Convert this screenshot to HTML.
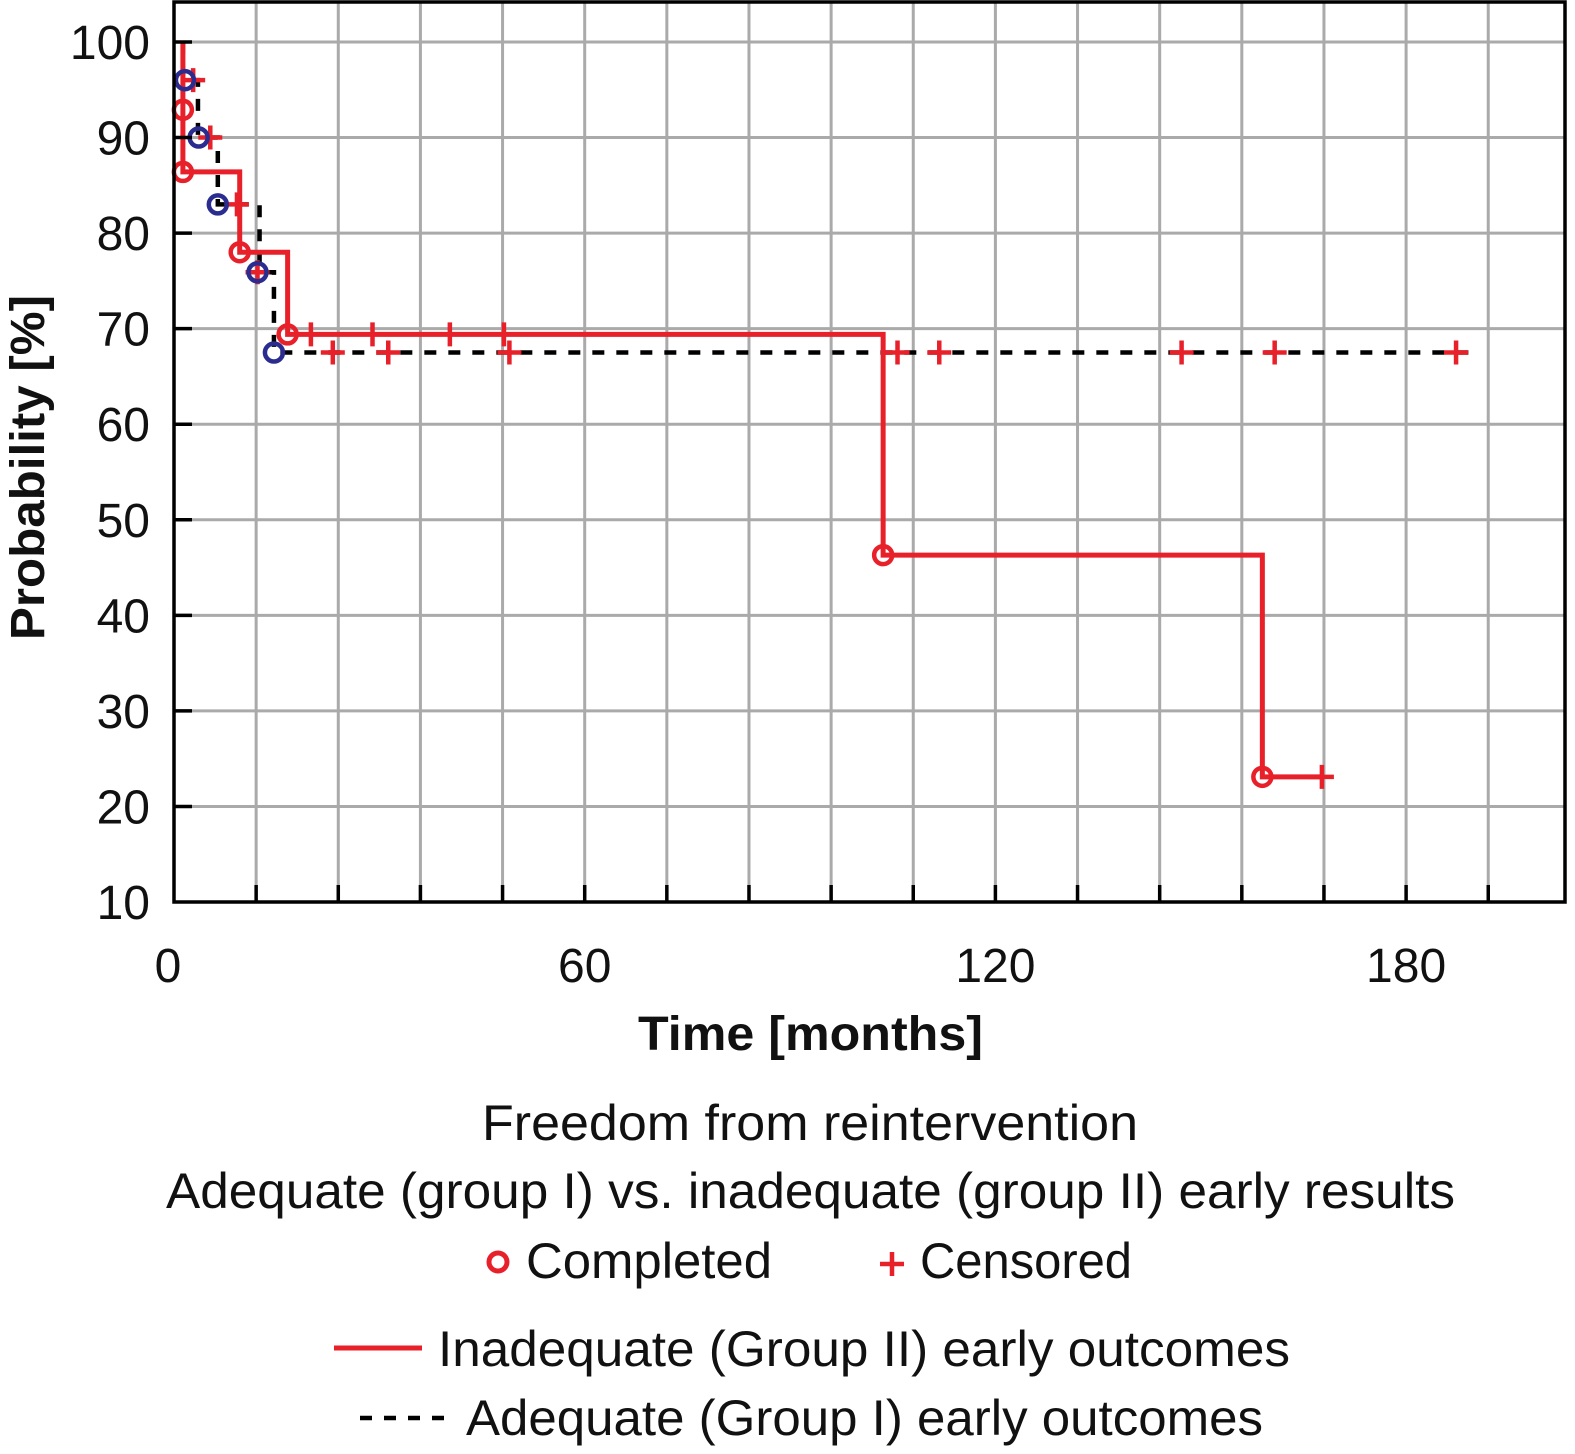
<!DOCTYPE html>
<html><head><meta charset="utf-8"><style>
html,body{margin:0;padding:0;background:#fff}
svg{display:block}
text{font-family:"Liberation Sans",sans-serif;fill:#111}
</style></head><body>
<svg id="chart" width="1575" height="1454" viewBox="0 0 1575 1454">
<g id="grid"></g>
<g id="series"></g>
<g id="axes"></g>
<text x="638" y="1050" font-size="48" font-weight="bold" textLength="345" lengthAdjust="spacingAndGlyphs">Time [months]</text>
<text transform="translate(44,640) rotate(-90)" font-size="48" font-weight="bold" textLength="345" lengthAdjust="spacingAndGlyphs">Probability [%]</text>
<text x="482" y="1140" font-size="50" textLength="656" lengthAdjust="spacingAndGlyphs">Freedom from reintervention</text>
<text x="166" y="1208" font-size="50" textLength="1289" lengthAdjust="spacingAndGlyphs">Adequate (group I) vs. inadequate (group II) early results</text>
<g>
<circle cx="498" cy="1262" r="9" fill="none" stroke="#e8202a" stroke-width="5"/>
<text x="526" y="1278" font-size="50" textLength="246" lengthAdjust="spacingAndGlyphs">Completed</text></g>
<g>
<path d="M880 1264h24M892 1252v24" stroke="#e8202a" stroke-width="4.5"/>
<text x="920" y="1278" font-size="50" textLength="212" lengthAdjust="spacingAndGlyphs">Censored</text></g>
<g>
<line x1="334" y1="1348" x2="422" y2="1348" stroke="#e8202a" stroke-width="5"/>
<text x="438" y="1366" font-size="50" textLength="852" lengthAdjust="spacingAndGlyphs">Inadequate (Group II) early outcomes</text></g>
<g>
<line x1="360" y1="1418" x2="452" y2="1418" stroke="#000" stroke-width="4.5" stroke-dasharray="12,12"/>
<text x="466" y="1435" font-size="50" textLength="797" lengthAdjust="spacingAndGlyphs">Adequate (Group I) early outcomes</text></g>
</svg>
<script>
// data
const redTimes=[1.3,9.6,16.6,103.6,159.0,167.6];
const redVals=[100,86.4,78.0,69.4,46.3,23.1,23.1];
const redCircleT=[1.3,1.3,9.6,16.6,103.6,159.0];
const redCircleV=[92.9,86.4,78.0,69.4,46.3,23.1];
const redTickT=[20,29,40.3,48.2];
const blackTimes=[1.3,3.5,6.4,12.5,14.6,189.6];
const blackVals=[100,96.0,90.0,83.0,75.9,67.5,67.5];
const blueCircleT=[1.6,3.6,6.4,12.2,14.6];
const blueCircleV=[96.0,90.0,83.0,75.9,67.5];
const plusT=[2.8,5.3,9.2,12.2,23.2,31.3,49.0,105.7,111.8,147.2,160.8,167.7,187.3];
const plusV=[96.0,90.0,83.0,75.9,67.5,67.5,67.5,67.5,67.5,67.5,67.5,23.1,67.5];
const yTicks=[10,20,30,40,50,60,70,80,90,100];
const xLabels=[0,60,120,180];

const L=174,R=1565,T=2,B=902;
const X=t=>L+t*6.845;
const Y=v=>B-(v-10)*9.556;
const NS="http://www.w3.org/2000/svg";
function mk(tag,attrs,parent){const e=document.createElementNS(NS,tag);for(const k in attrs)e.setAttribute(k,attrs[k]);parent.appendChild(e);return e;}
const grid=document.getElementById('grid'),ser=document.getElementById('series'),ax=document.getElementById('axes');
for(let m=12;m<204;m+=12){const l=mk('line',{x1:X(m),x2:X(m),y1:T,y2:B,stroke:'#aaa','stroke-width':3},grid);


const tk=mk('line',{x1:X(m),x2:X(m),y1:B-17,y2:B,stroke:'#000','stroke-width':3.5},ax);

}
yTicks.forEach(v=>{
 if(v>10){const l=mk('line',{x1:L,x2:R,y1:Y(v),y2:Y(v),stroke:'#aaa','stroke-width':3},grid);
 
 
 const tk=mk('line',{x1:L,x2:L+18,y1:Y(v),y2:Y(v),stroke:'#000','stroke-width':3.5},ax);
 
 }
 const t=mk('text',{x:150,y:Y(v)+17,'font-size':48,'text-anchor':'end'},ax);t.textContent=v;
 
 
});
xLabels.forEach(m=>{const t=mk('text',{x:X(m)-(m===0?6:0),y:982,'font-size':48,'text-anchor':'middle'},ax);t.textContent=m;
 
 });
const frame=mk('rect',{x:L,y:T,width:R-L,height:B-T,fill:'none',stroke:'#000','stroke-width':3.5},ax);


function stepPath(times,vals){let d=`M${X(times[0])} ${Y(vals[0])}`;for(let i=0;i<times.length;i++){d+=` V${Y(vals[i+1])}`;if(i+1<times.length)d+=` H${X(times[i+1])}`;}return d;}
const bp=mk('path',{d:stepPath(blackTimes,blackVals),fill:'none',stroke:'#000','stroke-width':4.5,'stroke-dasharray':'12,12'},ser);


const rp=mk('path',{d:stepPath(redTimes,redVals),fill:'none',stroke:'#e8202a','stroke-width':5},ser);


redTickT.forEach(t=>{const l=mk('line',{x1:X(t),x2:X(t),y1:Y(69.4)-12,y2:Y(69.4)+12,stroke:'#e8202a','stroke-width':4.5},ser);
 
 });
plusT.forEach((t,i)=>{const p=mk('path',{d:`M${X(t)-12} ${Y(plusV[i])}h24M${X(t)} ${Y(plusV[i])-12}v24`,stroke:'#e8202a','stroke-width':4.5},ser);
 
 });
blueCircleT.forEach((t,i)=>{const c=mk('circle',{cx:X(t),cy:Y(blueCircleV[i]),r:9,fill:'none',stroke:'#2b2c8f','stroke-width':4.5},ser);
 
 });
redCircleT.forEach((t,i)=>{const c=mk('circle',{cx:X(t),cy:Y(redCircleV[i]),r:9,fill:'none',stroke:'#e8202a','stroke-width':4.5},ser);
 
 });
</script>
</body></html>
